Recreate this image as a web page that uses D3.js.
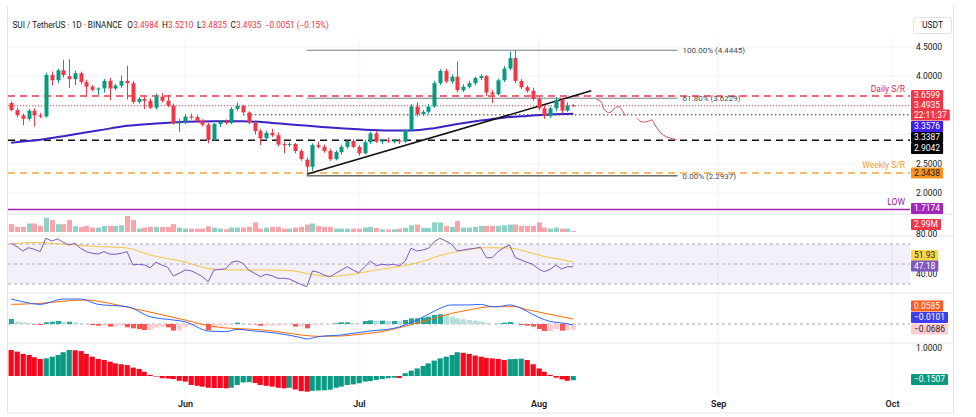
<!DOCTYPE html>
<html>
<head>
<meta charset="utf-8">
<script src="https://cdn.jsdelivr.net/npm/d3@7"></script>
<style>
  body { margin: 0; background: #fff; }
  text { font-family: Roboto, "Noto Sans", sans-serif; }
</style>
</head>
<body>
<div id="chart"></div>
<script>
// SUI / USDT daily, 2 May 2025 -> 6 Aug 2025 (index 0 = 2 May)
const opens = [3.54,3.42,3.33,3.27,3.41,3.33,3.31,4.02,3.93,4.10, 4.00,3.95,4.05,3.90,3.82,3.77,3.79,3.92,3.79,3.84,
  3.92,3.88,3.56,3.61,3.58,3.46,3.65,3.58,3.50,3.19, 3.22,3.31,3.30,3.23,3.17,2.91,3.18,3.22,3.20,3.44,
  3.49,3.38,3.21,3.06,2.94,3.03,2.99,2.84,2.83,2.84, 2.72,2.57,2.45,2.82,2.79,2.72,2.58,2.70,2.79,2.89,
  2.79,2.68,2.87,3.02,2.88,2.90,2.88,2.90,2.88,3.08, 3.48,3.35,3.39,3.48,3.88,4.09,3.91,3.99,3.76,3.82,
  3.88,3.97,4.00,3.72,3.69,3.93,4.13,4.31,3.92,3.81, 3.75,3.61,3.45,3.32,3.45,3.59,3.41,3.4984];
const highs = [3.57,3.46,3.36,3.44,3.45,3.37,4.06,4.08,4.13,4.28, 4.29,4.09,4.08,3.94,3.85,3.81,3.95,3.97,3.87,4.01,
  4.18,3.92,3.64,3.65,3.62,3.70,3.71,3.68,3.53,3.27, 3.35,3.36,3.34,3.26,3.20,3.20,3.25,3.26,3.47,3.55,
  3.51,3.40,3.24,3.10,3.07,3.10,3.04,2.88,2.87,2.86, 2.75,2.61,2.85,2.88,2.83,2.76,2.73,2.82,2.92,2.92,
  2.82,2.91,3.05,3.06,2.93,2.95,2.92,2.93,3.10,3.52, 3.55,3.42,3.52,3.92,4.12,4.13,4.03,4.25,3.86,3.92,
  3.99,4.03,4.02,3.76,3.96,4.17,4.42,4.4445,3.95,3.84, 3.80,3.65,3.50,3.48,3.64,3.62,3.55,3.5210];
const lows = [3.40,3.30,3.16,3.24,3.14,3.28,3.29,3.84,3.88,3.98, 3.80,3.85,3.86,3.65,3.74,3.68,3.72,3.59,3.76,3.80,
  3.60,3.53,3.53,3.44,3.44,3.43,3.55,3.47,3.17,3.05, 3.18,3.26,3.21,3.14,2.85,2.89,3.13,3.17,3.18,3.40,
  3.36,3.18,3.00,2.82,2.90,2.96,2.80,2.68,2.79,2.68, 2.55,2.2937,2.38,2.76,2.69,2.55,2.56,2.66,2.76,2.77,
  2.64,2.66,2.84,2.86,2.84,2.86,2.85,2.84,2.86,3.06, 3.31,3.32,3.36,3.46,3.85,3.88,3.87,3.72,3.73,3.79,
  3.84,3.93,3.66,3.54,3.67,3.90,4.10,3.88,3.78,3.72, 3.58,3.41,3.27,3.28,3.40,3.36,3.39,3.4835];
const closes = [3.42,3.33,3.27,3.41,3.33,3.31,4.02,3.93,4.10,4.02, 3.95,4.05,3.90,3.82,3.77,3.79,3.92,3.79,3.84,3.92,
  3.88,3.56,3.61,3.58,3.46,3.65,3.58,3.50,3.19,3.22, 3.31,3.29,3.23,3.17,2.91,3.18,3.22,3.20,3.44,3.49,
  3.38,3.21,3.06,2.94,3.03,2.99,2.83,2.83,2.84,2.72, 2.58,2.45,2.82,2.79,2.72,2.58,2.70,2.79,2.89,2.79,
  2.68,2.87,3.02,2.88,2.90,2.88,2.90,2.88,3.08,3.48, 3.35,3.39,3.48,3.88,4.09,3.91,3.99,3.76,3.82,3.88,
  3.97,4.00,3.72,3.69,3.93,4.13,4.31,3.92,3.81,3.75, 3.61,3.45,3.32,3.45,3.59,3.41,3.4984,3.4935];
// volume in millions
const volumes = [23,15,15,25,25,18,42,35,23,23, 35,17,15,18,13,13,18,18,18,20,
  47,35,10,13,15,15,15,15,23,13, 10,10,10,10,17,13,10,8,13,13,
  13,15,28,10,13,15,15,10,10,13, 15,22,25,18,15,15,10,10,10,10,
  10,13,15,12,8,8,8,10,12,20, 22,12,12,28,28,18,15,32,13,13,
  15,18,18,18,18,20,22,22,18,18, 18,28,13,10,13,10,10,2.99];

const maDays = [0,5,10,15,20,25,30,35,40,45,50,55,60,65,69,73,77,81,85,89,93,97];
const maValues = [2.86,2.91,2.99,3.07,3.15,3.19,3.22,3.23,3.23,3.20,3.16,3.12,3.09,3.07,3.07,3.11,3.18,3.24,3.29,3.32,3.345,3.3576];

const rsiValues = [70.7,67.3,63,66.3,64.7,62.3,75.7,73,75,71.7, 69,70.7,65.7,62.3,60.7,60,62.3,60,59.7,60.7,
  62.3,49,49.7,49,46.3,51.7,49,46.7,38,40.7, 44,43.3,40.7,37.3,32.3,44,44.7,45,51.7,53,
  50.7,44,40.7,37.3,39.7,38.3,35.7,35.7,35,32.3, 29.7,27.3,43,41.7,39,37.3,40.7,44,47.3,44,
  41.3,47.3,53,48.3,49.7,49,49.7,48.3,53,65.7, 63,64,65.7,72.3,75.7,73,69.7,63,64,65,
  65.7,66.7,56.3,56.3,62.3,66.3,69,56.3,54,51.7, 49.7,45,42.3,44.7,49,45,47.3,47.18];
const rsiMaDays = [0,4,10,15,20,24,30,34,38,44,48,52,55,58,63,67,71,74,78,82,86,89,92,95,97];
const rsiMaValues = [70,71.5,69.5,67.5,66,59,52,45.5,44,44,43.5,39.5,37.5,39,44,47.5,52.5,58.5,63.5,66.3,66,62.3,57.5,54.5,51.93];

const macdDays = [0,2,5,9,12,15,20,24,28,30,34,37,39,42,46,50,51,53,57,59,62,66,68,70,72,74,76,79,81,83,84,86,88,89,91,93,95,97];
const macdValues = [0.294,0.262,0.231,0.294,0.294,0.231,0.204,0.086,0.047,0.027,-0.082,-0.09,-0.063,-0.082,-0.11,-0.16,-0.176,-0.149,-0.129,-0.11,
  -0.082,-0.051,-0.012,0.047,0.114,0.184,0.224,0.224,0.231,0.204,0.204,0.224,0.184,0.15,0.08,0.03,0.012,-0.0101];
const signalDays = [0,5,10,13,17,21,25,30,35,38,42,46,50,53,57,60,64,67,70,73,76,79,81,83,87,89,91,94,97];
const signalValues = [0.231,0.243,0.274,0.282,0.243,0.184,0.125,0.047,-0.031,-0.051,-0.063,-0.09,-0.129,-0.145,-0.141,-0.122,-0.09,-0.043,0.008,0.067,
  0.125,0.165,0.192,0.204,0.204,0.17,0.142,0.099,0.0585];
const macdHist = [0.059,0.027,0.02,0.008,-0.005,-0.012,0.02,0.027,0.035,0.027, 0.027,0.02,0.008,0.002,-0.012,-0.02,-0.02,-0.031,-0.031,-0.02,
  -0.039,-0.051,-0.059,-0.071,-0.071,-0.043,-0.031,-0.039,-0.078,-0.078, -0.039,-0.02,-0.012,-0.012,-0.071,-0.039,-0.02,-0.012,0.001,0.016,
  0.008,-0.002,-0.004,-0.02,-0.02,-0.02,-0.02,-0.012,-0.004,-0.031, -0.031,-0.051,-0.012,-0.004,0.001,0.0,0.008,0.02,0.02,0.008,
  0.0,0.035,0.043,0.039,0.039,0.035,0.035,0.031,0.047,0.067, 0.067,0.075,0.086,0.106,0.114,0.106,0.086,0.067,0.055,0.047,
  0.039,0.027,0.008,0.0,0.004,0.016,0.024,0.004,-0.012,-0.02, -0.031,-0.059,-0.082,-0.082,-0.059,-0.078,-0.072,-0.0686];
const oscValues = [0.93,0.87,0.79,0.75,0.67,0.61,0.63,0.69,0.75,0.85, 0.93,0.92,0.89,0.79,0.69,0.61,0.57,0.51,0.45,0.42,
  0.39,0.30,0.25,0.15,0.04,-0.02,-0.08,-0.09,-0.11,-0.17, -0.20,-0.32,-0.35,-0.38,-0.42,-0.43,-0.43,-0.44,-0.42,-0.32,
  -0.23,-0.22,-0.25,-0.32,-0.35,-0.38,-0.42,-0.44,-0.42,-0.48, -0.54,-0.56,-0.53,-0.52,-0.51,-0.49,-0.42,-0.38,-0.32,-0.30,
  -0.26,-0.20,-0.18,-0.14,-0.11,-0.08,-0.06,-0.07,0.10,0.19, 0.27,0.36,0.45,0.55,0.63,0.69,0.75,0.85,0.83,0.79,
  0.73,0.69,0.65,0.63,0.61,0.57,0.60,0.61,0.62,0.57, 0.42,0.27,0.15,0.04,-0.06,-0.12,-0.17,-0.1507];

// drawn levels
const dailySR = 3.6599, weeklySR = 2.3438, lowLevel = 1.7174, support = 2.9042, dottedLevel = 3.3387, dottedFrom = 40;
const fibLabels = ["100.00% (4.4445)", "61.80% (3.6229)", "0.00% (2.2937)"];
const fibValues = [4.4445, 3.6229, 2.2937];
const fibDays = [51, 115];
const trendDays = [51, 100.1];
const trendPrices = [2.32, 3.75];
const pathDaysA = [101, 101.8, 102.4, 103.3, 104.1, 104.9, 105.6, 106];
const pathPricesA = [3.604, 3.563, 3.421, 3.375, 3.45, 3.478, 3.392, 3.318];
const pathDaysB = [108, 108.7, 109.7, 110.6, 111, 111.9, 113, 114.5, 114.9];
const pathPricesB = [3.279, 3.221, 3.221, 3.25, 3.182, 3.05, 2.964, 2.92, 2.908];
const priceGrid = [2, 2.5, 3, 3.5, 4, 4.5];
const priceTicks = [2, 2.5, 4, 4.5];   // 3.0 and 3.5 sit behind the price tags

// header pieces: [key, value]
const headerItems = [["", "SUI / TetherUS \u00b7 1D \u00b7 BINANCE"], ["O", "3.4984"], ["H", "3.5210"],
  ["L", "3.4835"], ["C", "3.4935"], ["", "\u22120.0051 (\u22120.15%)"]];

const UP = "#089981", DOWN = "#f23645";
const start = Date.UTC(2025, 4, 2);
const day = i => new Date(start + i * 864e5);

const svg = d3.select("#chart").append("svg")
    .attr("width", 976).attr("height", 417)
    .style("display", "block");

const x = d3.scaleUtc()
    .domain([new Date(Date.UTC(2025, 5, 1)), new Date(Date.UTC(2025, 9, 1))])
    .range([185, 892]);
const yPrice = d3.scaleLinear().domain([2, 4.5]).range([193, 47]);
const yVol = d3.scaleLinear().domain([0, 47]).range([232, 216]);
const yRsi = d3.scaleLinear().domain([30, 70]).range([284, 244]);
const yMacd = d3.scaleLinear().domain([-0.2, 0.3]).range([341, 298.5]);
const yOsc = d3.scaleLinear().domain([-1, 1]).range([404, 348]);

const L = 8, R = 910;

svg.append("defs").append("clipPath").attr("id", "plot")
    .append("rect").attr("x", L).attr("y", 0).attr("width", R - L).attr("height", 417);

// frame, grid and pane separators
const grid = svg.append("g");
grid.selectAll(".vg").data(x.ticks(d3.utcMonth)).enter().append("line")
    .attr("x1", d => x(d)).attr("x2", d => x(d)).attr("y1", 38).attr("y2", 396)
    .attr("stroke", "#f0f3fa");
grid.selectAll(".hg").data(priceGrid).enter().append("line")
    .attr("x1", L).attr("x2", R).attr("y1", d => yPrice(d)).attr("y2", d => yPrice(d))
    .attr("stroke", "#f0f3fa");
[214, 236, 293, 343].forEach(yy => {
    grid.append("line").attr("x1", L).attr("x2", 953).attr("y1", yy).attr("y2", yy)
        .attr("stroke", "#e0e3eb");
});
grid.append("line").attr("x1", 7.5).attr("x2", 7.5).attr("y1", 6).attr("y2", 413).attr("stroke", "#e0e3eb");
grid.append("line").attr("x1", 953.5).attr("x2", 953.5).attr("y1", 6).attr("y2", 413).attr("stroke", "#e0e3eb");
grid.append("line").attr("x1", 7.5).attr("x2", 953.5).attr("y1", 413).attr("y2", 413).attr("stroke", "#e0e3eb");

const plot = svg.append("g").attr("clip-path", "url(#plot)");

// horizontal levels
function hline(v, color, width, dash, fromDay) {
    plot.append("line")
        .attr("x1", fromDay === undefined ? L : x(day(fromDay))).attr("x2", R)
        .attr("y1", yPrice(v)).attr("y2", yPrice(v))
        .attr("stroke", color).attr("stroke-width", width)
        .attr("stroke-dasharray", dash);
}
hline(dailySR, "#f23645", 1.5, "7,5");
hline(closes[closes.length - 1], "#f23645", 1, "1,2");
hline(dottedLevel, "#222", 1, "1.5,2.5", dottedFrom);
hline(support, "#111", 1.5, "7,5");
hline(weeklySR, "#f5a742", 1.5, "7,5");
hline(lowLevel, "#a326b8", 1.5, null);

// fib lines
fibValues.forEach((v, k) => {
    plot.append("line")
        .attr("x1", x(day(fibDays[0]))).attr("x2", x(day(fibDays[1])))
        .attr("y1", yPrice(v)).attr("y2", yPrice(v))
        .attr("stroke", k === 2 ? "#222" : "#787b86").attr("stroke-width", 1);
    plot.append("text")
        .attr("x", x(day(fibDays[1])) + 5).attr("y", yPrice(v)).attr("dy", "0.35em")
        .attr("font-size", 8).attr("fill", "#4a4a4a")
        .text(fibLabels[k]);
});

// level captions
function caption(text, v, color, dy) {
    plot.append("text").attr("x", 905).attr("y", yPrice(v) + dy)
        .attr("text-anchor", "end").attr("font-size", 8.5).attr("fill", color).text(text);
}
caption("Daily S/R", dailySR, "#e0294a", -4);
caption("Weekly S/R", weeklySR, "#f0a030", -5);
caption("LOW", lowLevel, "#8e24aa", -5);

// moving average
const maLine = d3.line().curve(d3.curveMonotoneX)
    .x(d => x(day(d[0]))).y(d => yPrice(d[1]));
plot.append("path").datum(d3.zip(maDays, maValues))
    .attr("d", maLine).attr("fill", "none").attr("stroke", "#3b22c4").attr("stroke-width", 2);

// trend line
plot.append("path").datum(d3.zip(trendDays, trendPrices))
    .attr("d", d3.line().x(d => x(day(d[0]))).y(d => yPrice(d[1])))
    .attr("stroke", "#111").attr("stroke-width", 1.5).attr("fill", "none");

// projected path
const pathLine = d3.line().curve(d3.curveCatmullRom)
    .x(d => x(day(d[0]))).y(d => yPrice(d[1]));
[[pathDaysA, pathPricesA], [pathDaysB, pathPricesB]].forEach(p => {
    plot.append("path").datum(d3.zip(p[0], p[1]))
        .attr("d", pathLine).attr("fill", "none").attr("stroke", "#e0435a").attr("stroke-width", 1);
});

// candles
const candles = opens.map((o, i) => ({ i, o, h: highs[i], l: lows[i], c: closes[i] }));
const cg = plot.append("g");
cg.selectAll(".wick").data(candles).enter().append("line")
    .attr("x1", d => Math.round(x(day(d.i))) + 0.5).attr("x2", d => Math.round(x(day(d.i))) + 0.5)
    .attr("y1", d => yPrice(d.h)).attr("y2", d => yPrice(d.l))
    .attr("stroke", d => d.c >= d.o ? UP : DOWN).attr("stroke-width", 1);
cg.selectAll(".body").data(candles).enter().append("rect")
    .attr("x", d => Math.round(x(day(d.i))) - 1.5)
    .attr("y", d => yPrice(Math.max(d.o, d.c)))
    .attr("width", 4)
    .attr("height", d => Math.max(1, Math.abs(yPrice(d.o) - yPrice(d.c))))
    .attr("fill", d => d.c >= d.o ? UP : DOWN);

// volume
plot.selectAll(".vol").data(volumes).enter().append("rect")
    .attr("x", (d, i) => Math.round(x(day(i))) - 2)
    .attr("y", d => yVol(d)).attr("width", 5)
    .attr("height", d => yVol(0) - yVol(d))
    .attr("fill", (d, i) => closes[i] >= opens[i] ? "rgba(8,153,129,0.45)" : "rgba(242,54,69,0.45)");

// RSI
plot.append("rect").attr("x", L).attr("width", R - L)
    .attr("y", yRsi(70)).attr("height", yRsi(30) - yRsi(70))
    .attr("fill", "rgba(126,87,194,0.09)");
[70, 50, 30].forEach(v => {
    plot.append("line").attr("x1", L).attr("x2", R).attr("y1", yRsi(v)).attr("y2", yRsi(v))
        .attr("stroke", "#9598a1").attr("stroke-dasharray", "3,3").attr("stroke-width", 0.8);
});
plot.append("path").datum(d3.zip(rsiMaDays, rsiMaValues))
    .attr("d", d3.line().curve(d3.curveMonotoneX).x(d => x(day(d[0]))).y(d => yRsi(d[1])))
    .attr("fill", "none").attr("stroke", "#f5c542").attr("stroke-width", 1);
plot.append("path").datum(rsiValues)
    .attr("d", d3.line().x((d, i) => x(day(i))).y(d => yRsi(d)))
    .attr("fill", "none").attr("stroke", "#7e57c2").attr("stroke-width", 1);

// MACD
plot.append("line").attr("x1", L).attr("x2", R).attr("y1", yMacd(0)).attr("y2", yMacd(0))
    .attr("stroke", "#9598a1").attr("stroke-dasharray", "3,3").attr("stroke-width", 0.8);
plot.selectAll(".mh").data(macdHist).enter().append("rect")
    .attr("x", (d, i) => Math.round(x(day(i))) - 2)
    .attr("y", d => Math.min(yMacd(d), yMacd(0))).attr("width", 5)
    .attr("height", d => Math.abs(yMacd(d) - yMacd(0)))
    .attr("fill", (d, i) => {
        const prev = i > 0 ? macdHist[i - 1] : d;
        if (d >= 0) return d >= prev ? "#26a69a" : "#b2dfdb";
        return d < prev ? "#ff5252" : "#ffcdd2";
    });
const mLine = d3.line().curve(d3.curveMonotoneX).x(d => x(day(d[0]))).y(d => yMacd(d[1]));
plot.append("path").datum(d3.zip(signalDays, signalValues))
    .attr("d", mLine).attr("fill", "none").attr("stroke", "#ff6d00").attr("stroke-width", 1);
plot.append("path").datum(d3.zip(macdDays, macdValues))
    .attr("d", mLine).attr("fill", "none").attr("stroke", "#2962ff").attr("stroke-width", 1);

// bottom oscillator
plot.selectAll(".osc").data(oscValues).enter().append("rect")
    .attr("x", (d, i) => Math.round(x(day(i))) - 2.4)
    .attr("y", d => Math.min(yOsc(d), yOsc(0))).attr("width", 5.2)
    .attr("height", d => Math.abs(yOsc(d) - yOsc(0)))
    .attr("fill", (d, i) => i > 0 && d > oscValues[i - 1] ? "#0b9a84" : "#f7081f");

// axes
function rightAxis(scale, ticks, fmt) {
    const g = svg.append("g").attr("transform", `translate(${R},0)`)
        .call(d3.axisRight(scale).tickValues(ticks).tickFormat(fmt).tickSize(0).tickPadding(6));
    g.select(".domain").remove();
    g.selectAll("text").attr("font-size", 8.5).attr("fill", "#131722")
        .attr("font-family", "Roboto, sans-serif");
}
rightAxis(yPrice, priceTicks, d3.format(".4f"));
rightAxis(yRsi, [80, 40], d3.format(".2f"));
rightAxis(yOsc, [1], d3.format(".4f"));

const xa = svg.append("g").attr("transform", "translate(0,399)")
    .call(d3.axisBottom(x).ticks(d3.utcMonth).tickFormat(d3.utcFormat("%b")).tickSize(0).tickPadding(2));
xa.select(".domain").remove();
xa.selectAll("text").attr("font-size", 9).attr("font-weight", 600).attr("fill", "#131722")
    .attr("font-family", "Roboto, sans-serif");

// price tags
function tag(yc, text, bg, fg) {
    const g = svg.append("g");
    const t = g.append("text").attr("x", 914).attr("y", yc).attr("dy", "0.35em")
        .attr("font-size", 8.5).attr("fill", fg).text(text);
    const w = t.node().getComputedTextLength();
    g.insert("rect", "text").attr("x", 911).attr("y", yc - 5.5)
        .attr("width", w + 6).attr("height", 11).attr("fill", bg).attr("rx", 1);
}
tag(95.5, "3.6599", "#f23645", "#fff");
tag(105.5, closes[closes.length - 1].toFixed(4), "#f23645", "#fff");
tag(115, "22:11:37", "#f23645", "#fff");
tag(126.5, maValues[maValues.length - 1].toFixed(4), "#3f1ff0", "#fff");
tag(137.5, dottedLevel.toFixed(4), "#000", "#fff");
tag(148.5, support.toFixed(4), "#000", "#fff");
tag(173, weeklySR.toFixed(4), "#f7931e", "#222");
tag(208.5, lowLevel.toFixed(4), "#a326b8", "#fff");
tag(224.5, volumes[volumes.length - 1].toFixed(2) + "M", "#f23645", "#fff");
tag(255.5, rsiMaValues[rsiMaValues.length - 1].toFixed(2), "#f9d84a", "#222");
tag(266, rsiValues[rsiValues.length - 1].toFixed(2), "#7e57c2", "#fff");
tag(306, signalValues[signalValues.length - 1].toFixed(4), "#ff5a1f", "#fff");
tag(317.5, "\u2212" + Math.abs(macdValues[macdValues.length - 1]).toFixed(4), "#3d3df0", "#fff");
tag(329, "\u2212" + Math.abs(macdHist[macdHist.length - 1]).toFixed(4), "#ffcdd2", "#222");
tag(379.5, "\u2212" + Math.abs(oscValues[oscValues.length - 1]).toFixed(4), "#089981", "#fff");

// currency box
svg.append("rect").attr("x", 913.5).attr("y", 17.5).attr("width", 38).attr("height", 16)
    .attr("rx", 3).attr("fill", "#fff").attr("stroke", "#e0e3eb");
svg.append("text").attr("x", 932.5).attr("y", 25.5).attr("dy", "0.35em").attr("text-anchor", "middle")
    .attr("font-size", 8.5).attr("fill", "#131722").text("USDT");

// header, laid out left to right
let cursor = 12.5;
headerItems.forEach((h, n) => {
    [h[0], h[1]].forEach((s, part) => {
        if (!s) return;
        const t = svg.append("text").attr("x", cursor).attr("y", 25).attr("dy", "0.35em")
            .attr("font-size", 8.2)
            .attr("fill", n === 0 || part === 0 ? "#131722" : DOWN)
            .text(s);
        cursor += t.node().getComputedTextLength() + (part === 0 ? 0.3 : 0);
    });
    cursor += n === 0 ? 5 : 3.6;
});
</script>
</body>
</html>
